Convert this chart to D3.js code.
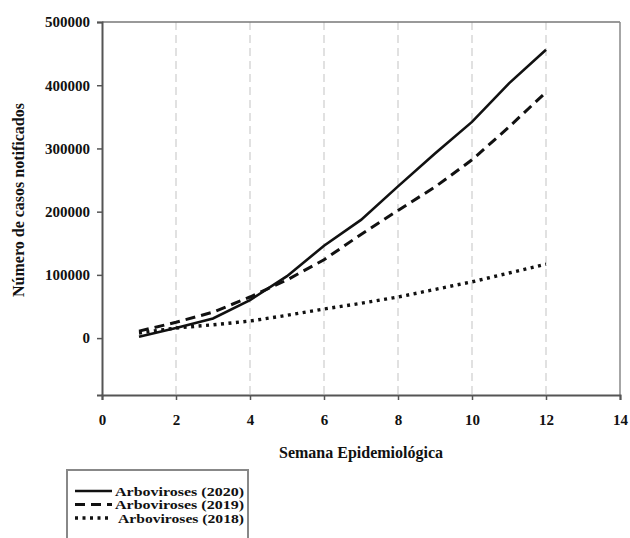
<!DOCTYPE html>
<html>
<head>
<meta charset="utf-8">
<script src="https://cdn.jsdelivr.net/npm/d3@7"></script>
<style>
  body { margin: 0; background: #fff; }
  text { font-family: "Liberation Serif", "Times New Roman", serif; font-weight: bold; fill: #111; }
</style>
</head>
<body>
<div id="root"></div>
<script>
var width = 630;
var height = 538;

// weeks and notified cases per series
var weeks = [1, 2, 3, 4, 5, 6, 7, 8, 9, 10, 11, 12];
var cases2020 = [2000, 16000, 31000, 60000, 98000, 146000, 187000, 240000, 292000, 342000, 403000, 456000];
var cases2019 = [11000, 25000, 41000, 65000, 92000, 124000, 164000, 202000, 239000, 282000, 334000, 389000];
var cases2018 = [8000, 16000, 21000, 27000, 36000, 46000, 55000, 65000, 77000, 89000, 103000, 117000];
var seriesNames = ['Arboviroses (2020)', 'Arboviroses (2019)', 'Arboviroses (2018)'];
var xTicks = [0, 2, 4, 6, 8, 10, 12, 14];
var yTicks = [0, 100000, 200000, 300000, 400000, 500000];
var gridWeeks = [2, 4, 6, 8, 10, 12];

var padding = { left: 102, right: 10, top: 22, bottom: 143 };

var svg = d3.select('#root')
    .append('svg')
    .attr('width', width).attr('height', height);

var xScale = d3.scaleLinear()
    .domain([0, 14])
    .range([padding.left, width - padding.right]);
var yScale = d3.scaleLinear()
    .domain([-90000, 500000])
    .range([height - padding.bottom, padding.top]);

// dashed vertical gridlines
svg.selectAll('.grid')
    .data(gridWeeks).enter()
    .append('line')
    .attr('class', 'grid')
    .attr('x1', function (d) { return xScale(d); })
    .attr('x2', function (d) { return xScale(d); })
    .attr('y1', yScale(500000))
    .attr('y2', yScale(-90000))
    .attr('stroke', '#d8d8d8')
    .attr('stroke-width', 1.5)
    .attr('stroke-dasharray', '8,5');

// frame (top and right)
svg.append('line')
    .attr('x1', xScale(0)).attr('x2', xScale(14))
    .attr('y1', yScale(500000)).attr('y2', yScale(500000))
    .attr('stroke', '#777').attr('stroke-width', 1.5);
svg.append('line')
    .attr('x1', xScale(14)).attr('x2', xScale(14))
    .attr('y1', yScale(500000)).attr('y2', yScale(-90000))
    .attr('stroke', '#888').attr('stroke-width', 1.5);

var xAxis = d3.axisBottom(xScale).tickValues(xTicks).tickSize(5).tickPadding(14);
var yAxis = d3.axisLeft(yScale).tickValues(yTicks).tickFormat(d3.format('d')).tickSize(5).tickPadding(7);

var gx = svg.append('g')
    .attr('transform', 'translate(0,' + yScale(-90000) + ')')
    .call(xAxis);
var gy = svg.append('g')
    .attr('transform', 'translate(' + xScale(0) + ',0)')
    .call(yAxis);
[gx, gy].forEach(function (g) {
  g.select('.domain').attr('stroke', '#555').attr('stroke-width', 2);
  g.selectAll('.tick line').attr('stroke', '#555').attr('stroke-width', 1.5);
  g.selectAll('.tick text')
      .style('font-family', '"Liberation Serif", serif')
      .style('font-weight', 'bold')
      .style('font-size', '15px')
      .attr('fill', '#111');
});

// axis titles
svg.append('text')
    .attr('x', 361).attr('y', 458)
    .attr('text-anchor', 'middle')
    .style('font-size', '16px')
    .text('Semana Epidemiológica');
svg.append('text')
    .attr('transform', 'translate(24,' + 200 + ') rotate(-90)')
    .attr('text-anchor', 'middle')
    .style('font-size', '16px')
    .text('Número de casos notificados');

// lines
var line = d3.line()
    .x(function (d, i) { return xScale(weeks[i]); })
    .y(function (d) { return yScale(d); });

var seriesData = [cases2020, cases2019, cases2018];
var dashes = ['none', '10,6', '3,4.5'];
var widths = [2.6, 3, 3.4];

svg.selectAll('.series')
    .data(seriesData).enter()
    .append('path')
    .attr('class', 'series')
    .attr('d', line)
    .attr('fill', 'none')
    .attr('stroke', '#111')
    .attr('stroke-width', function (d, i) { return widths[i]; })
    .attr('stroke-dasharray', function (d, i) { return dashes[i]; });

// legend
var legend = svg.append('g');
legend.append('path')
    .attr('d', 'M67,540 V470 H248 V540')
    .attr('fill', 'none')
    .attr('stroke', '#888')
    .attr('stroke-width', 2);
var rows = legend.selectAll('.row')
    .data(seriesNames).enter()
    .append('g')
    .attr('class', 'row')
    .attr('transform', function (d, i) { return 'translate(0,' + (491 + i * 13.5) + ')'; });
rows.append('line')
    .attr('x1', 75).attr('x2', 112)
    .attr('y1', 0).attr('y2', 0)
    .attr('stroke', '#111')
    .attr('stroke-width', function (d, i) { return widths[i]; })
    .attr('stroke-dasharray', function (d, i) { return dashes[i]; });
rows.append('text')
    .attr('x', function (d, i) { return i === 2 ? 118 : 115; })
    .attr('y', 4.5)
    .attr('textLength', function (d, i) { return i === 2 ? 126 : 129; })
    .attr('lengthAdjust', 'spacingAndGlyphs')
    .style('font-size', '12px')
    .text(function (d) { return d; });
</script>
</body>
</html>
